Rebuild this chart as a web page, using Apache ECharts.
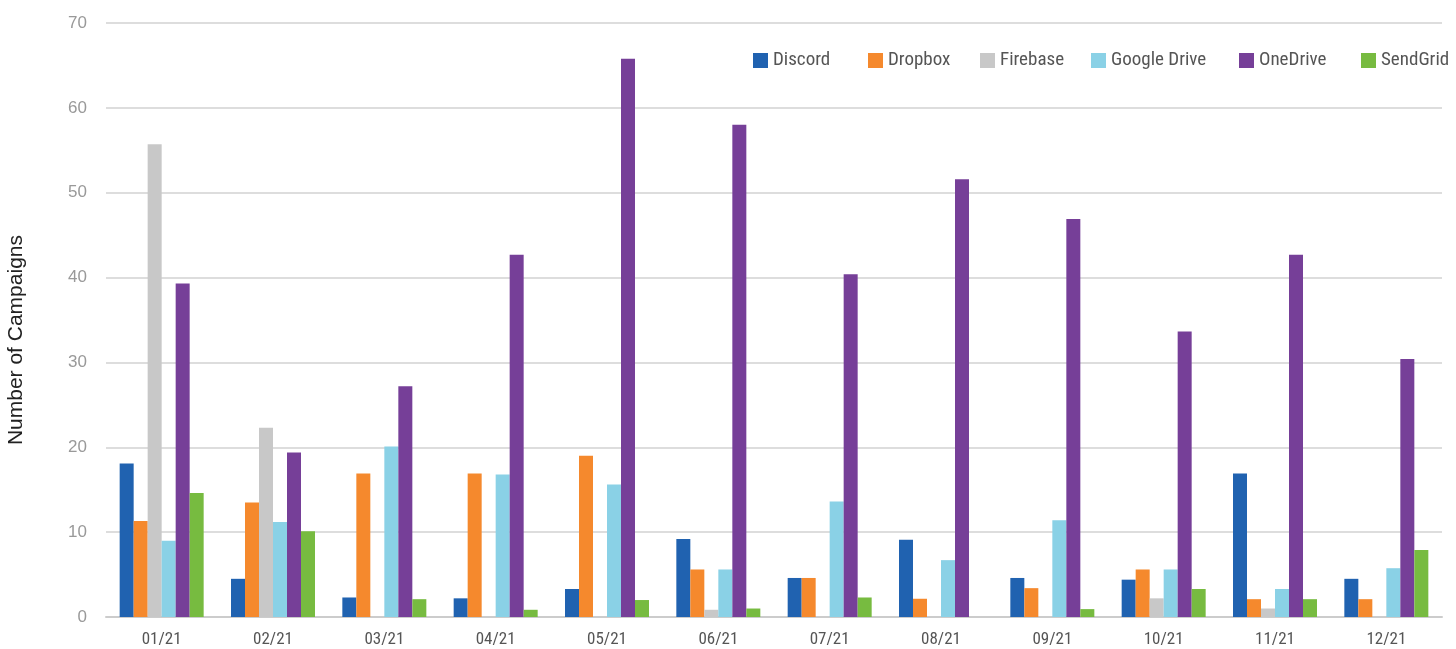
<!DOCTYPE html>
<html>
<head>
<meta charset="utf-8">
<script src="https://cdn.jsdelivr.net/npm/echarts@6/dist/echarts.min.js"></script>
<style>
html,body{margin:0;padding:0;background:#fff;}
#chart{width:1456px;height:649px;}
</style>
</head>
<body>
<div id="chart"></div>
<script>
const categories = ['01/21','02/21','03/21','04/21','05/21','06/21','07/21','08/21','09/21','10/21','11/21','12/21'];
const seriesNames = ['Discord','Dropbox','Firebase','Google Drive','OneDrive','SendGrid'];
const discord     = [18.1, 4.5, 2.3, 2.2, 3.3, 9.2, 4.6, 9.1, 4.6, 4.4, 16.9, 4.5];
const dropbox     = [11.3, 13.5, 16.9, 16.9, 19.0, 5.6, 4.6, 2.15, 3.4, 5.6, 2.1, 2.1];
const firebase    = [55.7, 22.3, 0, 0, 0, 0.85, 0, 0, 0, 2.2, 1.0, 0];
const googleDrive = [9.0, 11.2, 20.1, 16.8, 15.6, 5.6, 13.6, 6.7, 11.4, 5.6, 3.3, 5.75];
const oneDrive    = [39.3, 19.4, 27.2, 42.7, 65.8, 58.0, 40.4, 51.6, 46.9, 33.65, 42.7, 30.4];
const sendGrid    = [14.6, 10.1, 2.1, 0.85, 2.0, 1.0, 2.3, 0, 0.93, 3.3, 2.1, 7.9];
const yTicks = [0, 10, 20, 30, 40, 50, 60, 70];
const yTitle = 'Number of Campaigns';

const colors = ['#2062B0', '#F5892D', '#C8C8C8', '#8AD1E6', '#763F98', '#77BB40'];
const allData = [discord, dropbox, firebase, googleDrive, oneDrive, sendGrid];
const legendLeft = [753, 868, 980, 1091, 1239, 1361];
const condensed = "'Liberation Sans Narrow', 'Roboto Condensed', Roboto, sans-serif";

const chart = echarts.init(document.getElementById('chart'), null, {renderer: 'canvas'});
chart.setOption({
  animation: false,
  backgroundColor: '#ffffff',
  color: colors,
  grid: {left: 106, right: 14, top: 23, bottom: 32, containLabel: false},
  legend: seriesNames.map((n, i) => ({
    data: [n],
    left: legendLeft[i],
    top: 51,
    padding: 0,
    itemWidth: 15,
    itemHeight: 15,
    icon: 'rect',
    textStyle: {color: '#555', fontSize: 19, fontFamily: condensed}
  })),
  graphic: [{
    type: 'text',
    left: 6,
    top: 235,
    rotation: Math.PI / 2,
    style: {
      text: yTitle,
      fill: '#222',
      font: "21px 'Liberation Sans', Arial, sans-serif"
    }
  }],
  xAxis: {
    type: 'category',
    data: categories,
    axisLine: {show: true, lineStyle: {color: '#cccccc', width: 2}},
    axisTick: {show: false},
    axisLabel: {color: '#555', fontSize: 17, fontFamily: condensed, margin: 14}
  },
  yAxis: {
    type: 'value',
    min: yTicks[0],
    max: yTicks[yTicks.length - 1],
    interval: 10,
    axisLine: {show: false},
    axisTick: {show: false},
    axisLabel: {color: '#999', fontSize: 17, fontFamily: "'Liberation Sans', Arial, sans-serif", margin: 19},
    splitLine: {lineStyle: {color: '#d2d2d2', width: 1.5}}
  },
  series: seriesNames.map((n, i) => ({
    name: n,
    type: 'bar',
    data: allData[i],
    barWidth: 14,
    barGap: '0%',
    itemStyle: {color: colors[i]}
  }))
});
</script>
</body>
</html>
